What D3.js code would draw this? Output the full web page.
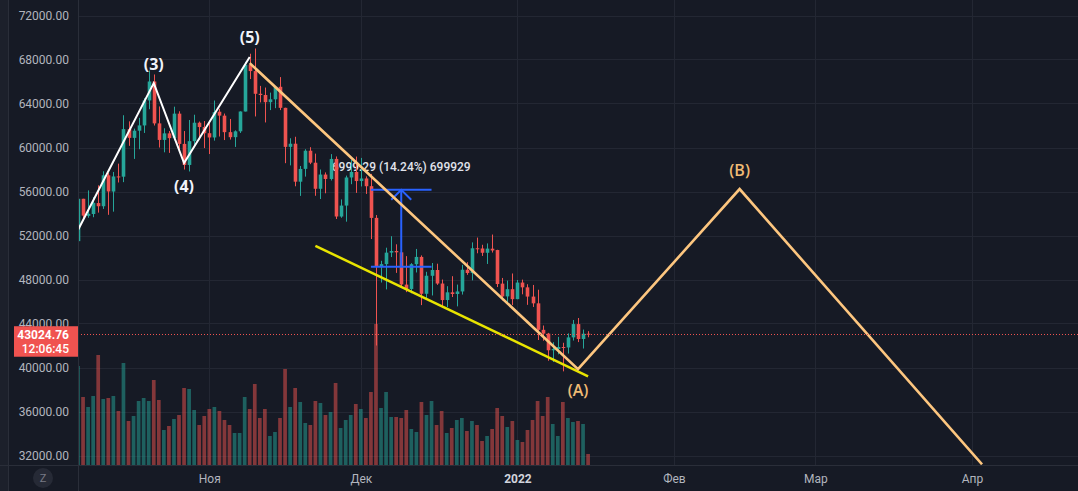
<!DOCTYPE html>
<html><head><meta charset="utf-8">
<script src="https://cdn.jsdelivr.net/npm/d3@7"></script>
<style>html,body{margin:0;padding:0;background:#161a25;overflow:hidden}</style>
</head><body><svg id="c" width="1078" height="491"></svg>
<script>
// ---------- data ----------
const firstDay = "2021-10-06";
const lastDay = "2022-01-15";
const opens = [51486,55338,53785,53955,54949,54659,57471,55996,57370,57347,61672,60875,61528,62005,64280,66002,62193,60689,61286,60852,63078,60328,58413,60575,62253,61860,
 61300,60911,63254,62896,61395,60940,61470,63273,67525,66947,64883,64774,64122,64380,65519,63606,60058,60344,56891,58057,59707,58617,56247,57541,57139,58961,53724,54721,57275,57777,
 56951,57185,56485,53602,49153,49397,50442,50589,50471,47536,47141,49389,50053,46703,48337,48864,47632,46134,46834,46682,46914,48888,48588,50838,50820,50429,50802,50679,47624,46464,47120,
 46216,47722,47287,46446,45833,43425,43082,41566,41679,41864,41820,42736,43946,42592,43071];
const closes = [55338,53805,53967,54968,54660,57471,56005,57367,57347,61672,60875,61528,62009,64280,66001,62193,60688,61286,60852,63078,60328,58413,60575,62253,61859,61299,
 60911,63219,62896,61395,60937,61470,63273,67525,66947,64882,64774,64122,64380,65519,63606,60058,60344,56891,58052,59707,58622,56247,57541,57138,58960,53726,54721,57274,57776,56950,
 57184,56480,53601,49152,49396,50441,50588,50471,47545,47140,49389,50053,46702,48343,48864,47632,46131,46834,46681,46914,48889,48588,50838,50821,50429,50809,50640,47588,46464,47120,46216,
 47722,47287,46446,45833,43425,43082,41566,41679,41864,41822,42736,43946,42592,43071,43025];
const highs = [55750,55338,56100,55489,56561,57839,57680,57777,58532,62933,62378,61718,62695,64486,67000,66639,63732,61747,61500,63711,63293,61496,62499,62980,62359,62405,
 62437,64270,63516,63086,62595,61560,63286,67789,68524,69000,65600,65450,64990,65550,66401,63617,60840,60976,58320,59845,60029,59444,58000,57735,59398,59186,55281,57445,58865,59176,
 59053,57375,57600,53859,49699,50891,51936,51200,50797,50125,49485,50777,50189,48700,49500,49436,47995,47392,48300,47537,49328,49576,51375,51810,51156,51280,52088,50704,48142,47900,48548,
 47954,47990,47570,47505,47070,43816,43145,42300,42786,42248,43100,44322,44500,43448,43300];
const lows = [50382,53357,53617,53661,54080,54416,53879,54167,56819,56850,60150,58963,59844,61322,63481,62000,60000,59562,59510,60650,59817,58000,57820,60174,60673,59945,
 59405,60624,61000,60677,60721,60050,61322,63273,66222,62822,64100,62278,63401,63576,63400,58574,58373,56474,55600,57353,58486,55610,55317,55837,57000,53500,53611,53256,56666,55875,
 56458,55778,51680,42000,47727,47100,50039,48600,47320,46852,46751,48638,45672,46290,46547,47511,45456,45500,46406,45558,46630,48422,47920,50384,50142,49412,50449,47313,46096,45900,45678,
 46208,46654,45696,45502,42500,42430,40610,40502,41200,39650,41269,42450,42311,41725,42750];
const volumes = [99,68,58,69,110,66,67,69,54,102,44,49,64,67,64,85,65,35,39,46,50,77,76,55,40,49,
 56,58,54,45,40,32,32,68,56,81,47,56,29,33,47,96,58,77,63,42,40,64,62,50,53,82,37,45,50,61,
 56,47,73,141,57,73,48,48,47,55,36,33,63,50,64,40,54,32,37,45,47,34,44,40,24,29,36,57,49,38,44,
 25,23,35,45,64,49,68,41,29,63,47,43,44,41,11];

const priceTicks = d3.range(32000, 72001, 4000);
const monthDates = ["2021-11-01","2021-12-01","2022-01-01","2022-02-01","2022-03-01","2022-04-01"];
const monthLabels = ["Ноя","Дек","2022","Фев","Мар","Апр"];

const lastPrice = 43024.76;
const countdown = "12:06:45";

const whiteWave = [["2021-10-06",52500],["2021-10-21",65850],["2021-10-27",58580],["2021-11-09",68220]];
const orangeWave = [["2021-11-09",67670],["2022-01-13",39850],["2022-02-14",56220],["2022-04-03",31200]];
const yellowLine = [["2021-11-22",51060],["2022-01-15",39200]];
const whiteLabels = [["(3)","2021-10-21",67600],["(4)","2021-10-27",56500],["(5)","2021-11-09",70050]];
const orangeLabels = [["(A)","2022-01-13",37950],["(B)","2022-02-14",57950]];
const measureDates = ["2021-12-03","2021-12-09","2021-12-15"];
const measureLow = 49153, measureHigh = 56152;
const measureText = "6999.29 (14.24%) 699929";

// ---------- setup ----------
const W = 1078, H = 491, L = 78, B = 465;
const P = d => new Date(d + "T00:00:00Z");
const dates = d3.utcDay.range(P(firstDay), d3.utcDay.offset(P(lastDay), 1));
const x = d3.scaleUtc().domain([P("2021-10-06"), P("2022-04-22")]).range([L, W]);
const y = d3.scaleLinear().domain([32000, 72000]).range([455.5, 15.5]);
const v = d3.scaleLinear().domain([0, d3.max(volumes)]).range([B, 324]);

const svg = d3.select("#c");
const font = "Roboto, 'Liberation Sans', sans-serif";
svg.append("rect").attr("width", W).attr("height", H).attr("fill", "#161a25");
svg.append("rect").attr("width", 8).attr("height", H).attr("fill", "#1c202b");
svg.append("line").attr("x1", 8.5).attr("x2", 8.5).attr("y1", 0).attr("y2", H).attr("stroke", "#2a2e39");

svg.append("defs").append("clipPath").attr("id", "plot")
  .append("rect").attr("x", L).attr("y", 0).attr("width", W - L).attr("height", B);
const plot = svg.append("g").attr("clip-path", "url(#plot)");

// grid
plot.append("g").selectAll("line").data(priceTicks).join("line")
  .attr("x1", L).attr("x2", W).attr("y1", d => Math.round(y(d)) + 0.5).attr("y2", d => Math.round(y(d)) + 0.5)
  .attr("stroke", "#232733");
plot.append("g").selectAll("line").data(monthDates).join("line")
  .attr("x1", d => Math.round(x(P(d))) + 0.5).attr("x2", d => Math.round(x(P(d))) + 0.5)
  .attr("y1", 0).attr("y2", B).attr("stroke", "#232733");

// volume
plot.append("g").selectAll("rect").data(dates).join("rect")
  .attr("x", d => x(d) - 1.85).attr("width", 3.7)
  .attr("y", (d, i) => v(volumes[i])).attr("height", (d, i) => B - v(volumes[i]))
  .attr("fill", (d, i) => closes[i] >= opens[i] ? "rgba(38,166,154,0.5)" : "rgba(239,83,80,0.5)");

// measure label (behind candles)
const mx = x(P(measureDates[1]));
plot.append("text").attr("x", mx).attr("y", y(measureHigh) - 23)
  .attr("text-anchor", "middle").attr("dominant-baseline", "central")
  .attr("font-family", font).attr("font-size", 12).attr("font-weight", 500)
  .attr("fill", "#e0e3eb").text(measureText);

// candles
const cg = plot.append("g");
dates.forEach((d, i) => {
  const cx = Math.round(x(d)) + 0.5;
  const up = closes[i] >= opens[i];
  const col = up ? "#26a69a" : "#ef5350";
  cg.append("line").attr("x1", cx).attr("x2", cx).attr("y1", y(highs[i])).attr("y2", y(lows[i]))
    .attr("stroke", col).attr("stroke-width", 1);
  const top = y(Math.max(opens[i], closes[i])), bot = y(Math.min(opens[i], closes[i]));
  cg.append("rect").attr("x", cx - 1.8).attr("width", 3.6)
    .attr("y", top).attr("height", Math.max(1, bot - top)).attr("fill", col);
});

// measure tool lines
const mx0 = x(P(measureDates[0])), mx1 = x(P(measureDates[2]));
const blue = plot.append("g").attr("stroke", "#2962ff").attr("stroke-width", 2).attr("fill", "none");
blue.append("line").attr("x1", mx0).attr("x2", mx1).attr("y1", y(measureHigh)).attr("y2", y(measureHigh));
blue.append("line").attr("x1", mx0).attr("x2", mx1).attr("y1", y(measureLow)).attr("y2", y(measureLow));
blue.append("line").attr("x1", mx).attr("x2", mx).attr("y1", y(measureHigh)).attr("y2", y(measureLow));
blue.append("path").attr("d", `M${mx - 10},${y(measureHigh) + 10}L${mx},${y(measureHigh)}L${mx + 10},${y(measureHigh) + 10}`);

// trend lines
const line = d3.line().x(d => x(P(d[0]))).y(d => y(d[1]));
plot.append("path").attr("d", line(yellowLine)).attr("stroke", "#e8e400").attr("stroke-width", 2.5).attr("fill", "none");
plot.append("path").attr("d", line(orangeWave)).attr("stroke", "#fdc67f").attr("stroke-width", 2.6)
  .attr("fill", "none").attr("stroke-linejoin", "miter");
plot.append("path").attr("d", line(whiteWave)).attr("stroke", "#ffffff").attr("stroke-width", 2).attr("fill", "none");

// current price line
plot.append("line").attr("x1", L).attr("x2", W).attr("y1", Math.round(y(lastPrice)) + 0.5).attr("y2", Math.round(y(lastPrice)) + 0.5)
  .attr("stroke", "#ef5350").attr("stroke-dasharray", "1,2");

// wave labels
plot.append("g").selectAll("text").data(whiteLabels).join("text")
  .attr("x", d => x(P(d[1]))).attr("y", d => y(d[2]))
  .attr("text-anchor", "middle").attr("dominant-baseline", "central")
  .attr("font-family", "'Open Sans', sans-serif").attr("font-size", 16).attr("font-weight", 700)
  .attr("fill", "#f0f3fa").text(d => d[0]);
plot.append("g").selectAll("text").data(orangeLabels).join("text")
  .attr("x", d => x(P(d[1]))).attr("y", d => y(d[2]))
  .attr("text-anchor", "middle").attr("dominant-baseline", "central")
  .attr("font-family", "'Open Sans', sans-serif").attr("font-size", 16).attr("font-weight", 600)
  .attr("fill", "#efbb74").text(d => d[0]);

// axes
const ya = svg.append("g").attr("transform", `translate(${L},0)`)
  .call(d3.axisLeft(y).tickValues(priceTicks).tickFormat(d3.format(".2f")).tickSize(0).tickPadding(9));
ya.select(".domain").remove();
ya.selectAll("text").attr("font-family", font).attr("font-size", 12).attr("fill", "#b2b5be");

const xa = svg.append("g").attr("transform", `translate(0,${B})`)
  .call(d3.axisBottom(x).tickValues(monthDates.map(P)).tickFormat((d, i) => monthLabels[i]).tickSize(0).tickPadding(9));
xa.select(".domain").remove();
xa.selectAll("text").attr("font-family", font).attr("font-size", 12)
  .attr("fill", (d, i) => monthLabels[i] === "2022" ? "#d1d4dc" : "#b2b5be")
  .attr("font-weight", (d, i) => monthLabels[i] === "2022" ? 700 : 400);

// separators
svg.append("line").attr("x1", 0).attr("x2", W).attr("y1", B + 0.5).attr("y2", B + 0.5).attr("stroke", "#2a2e39");
svg.append("line").attr("x1", L + 0.5).attr("x2", L + 0.5).attr("y1", 0).attr("y2", H).attr("stroke", "#2a2e39");

// price tag
const ty = y(lastPrice);
svg.append("rect").attr("x", 14).attr("y", ty - 8).attr("width", L - 14).attr("height", 30.5).attr("fill", "#f05350");
svg.append("text").attr("x", 69).attr("y", ty + 1).attr("text-anchor", "end").attr("dominant-baseline", "central")
  .attr("font-family", font).attr("font-size", 12).attr("font-weight", 700).attr("fill", "#ffffff")
  .text(d3.format(".2f")(lastPrice));
svg.append("text").attr("x", 69).attr("y", ty + 14.5).attr("text-anchor", "end").attr("dominant-baseline", "central")
  .attr("font-family", font).attr("font-size", 12).attr("font-weight", 500).attr("fill", "#ffffff")
  .text(countdown);

// Z button
svg.append("circle").attr("cx", 43).attr("cy", 478).attr("r", 10).attr("fill", "#262a36");
svg.append("text").attr("x", 43).attr("y", 478).attr("text-anchor", "middle").attr("dominant-baseline", "central")
  .attr("font-family", font).attr("font-size", 11).attr("fill", "#787b86").text("Z");
</script></body></html>
